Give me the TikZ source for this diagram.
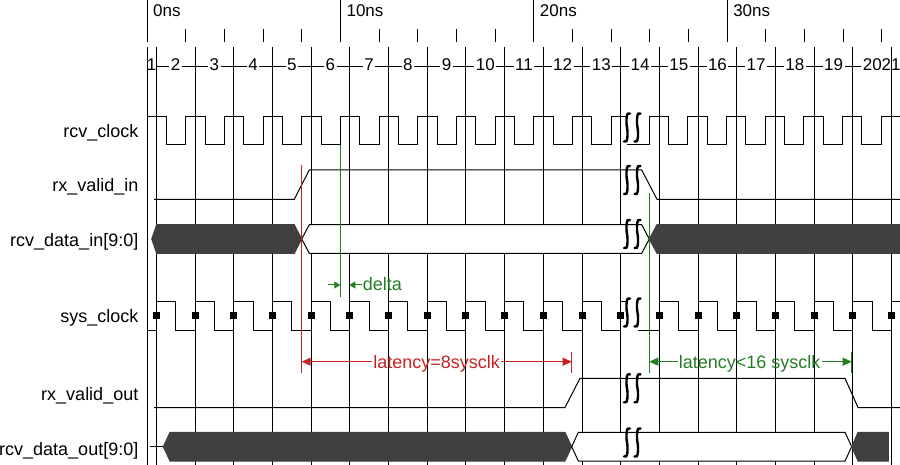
\documentclass[tikz,border=0pt]{standalone}
\usepackage{fontspec}
\setmainfont{Liberation Sans}
\usepackage{tikz}
\usetikzlibrary{arrows.meta}

\definecolor{latred}{RGB}{200,35,35}
\definecolor{latgreen}{RGB}{35,125,35}
\definecolor{busgray}{RGB}{64,64,64}

\tikzset{
  signame/.style={anchor=base east, inner sep=0pt, font=\fontsize{18}{20}\selectfont},
  cycnum/.style={anchor=base, inner sep=1.5pt, fill=white, font=\fontsize{17}{20}\selectfont},
  nslabel/.style={anchor=base west, inner sep=0pt, font=\fontsize{17}{20}\selectfont},
  annot/.style={anchor=base, inner sep=1pt, font=\fontsize{18}{20}\selectfont},
  wave/.style={black, line width=1pt},
  gridline/.style={black, line width=0.9pt},
  darkbus/.style={fill=busgray, draw=busgray, line width=1pt},
  whitebus/.style={fill=white, draw=black, line width=1pt},
  brkmark/.style={black, line width=2.4pt, line cap=round},
  redmark/.style={latred, line width=1pt},
  greenmark/.style={latgreen, line width=1pt},
  bigtip/.style={-{Triangle[length=9pt,width=8pt]}},
  smalltip/.style={-{Triangle[length=6pt,width=7pt]}}
}

\begin{document}
\begin{tikzpicture}[x=1pt,y=-1pt]
        \useasboundingbox (0,0) rectangle (900,465);
        \fill[white] (0,0) rectangle (900,465);
        \clip (0,0) rectangle (900,465);

        % Time scale
        \draw[gridline] (147,0) -- (147,42);
        \foreach \k in {1,...,19}
            \draw[gridline] (147+38.67*\k,29) -- (147+38.67*\k,42);
        \foreach \k in {5,10,15}
            \draw[gridline] (147+38.67*\k,0) -- (147+38.67*\k,42);
        \foreach \k/\lab in {0/0ns,5/10ns,10/20ns,15/30ns}
            \node[nslabel] (ns\k) at (153+38.67*\k,16.7) {\lab};

        % Cycle numbers
        \draw[gridline] (156.3,66) -- (882,66);
        \node[cycnum, fill=none] (cyc1) at (151.5,71) {1};
        \foreach \k [evaluate=\k as \n using int(\k+2)] in {0,...,18}
            \node[cycnum] (cyc\n) at (175.65+38.7*\k,71) {\n};
        \node[cycnum, fill=none, anchor=base west, inner sep=0pt] (cyc21) at (881.5,71) {21};

        % Grid lines on the sys_clock edges
        \draw[gridline] (147,47) -- (147,465);
        \foreach \k in {0,...,19}
            \draw[gridline] (156.3+38.7*\k,47) -- (156.3+38.7*\k,465);

        % Signal names
        \node[signame] (lrcvclk) at (138.5,137.7) {rcv\_clock};
        \node[signame] (lrxin) at (138.5,192) {rx\_valid\_in};
        \node[signame] (ldatain) at (138.5,246.7) {rcv\_data\_in[9:0]};
        \node[signame] (lsysclk) at (138.5,322.3) {sys\_clock};
        \node[signame] (lrxout) at (138.5,400) {rx\_valid\_out};
        \node[signame] (ldataout) at (138.5,455.7) {rcv\_data\_out[9:0]};

        % rcv_clock
        \draw[wave] (147,145) \foreach \k in {0,...,11} {-- ++(0,-28.5) -- ++(19.33,0) -- ++(0,28.5) -- ++(19.34,0)}
            -- ++(0,-28.5) -- (627,116.5);
        \draw[wave] (627,145) -- (649.3,145) \foreach \k in {0,...,6} {-- ++(0,-28.5) -- ++(19.33,0) -- ++(0,28.5) -- ++(19.34,0)};

        % rx_valid_in
        \draw[wave] (154,199.3) -- (294.3,199.3) -- (309.3,170) -- (641.7,170) -- (657,199.3) -- (900,199.3);

        % rcv_data_in
        \draw[darkbus] (151.7,239) -- (156.7,224.7) -- (294.3,224.7) -- (301.7,239) -- (294.3,253.3) -- (156.7,253.3) -- cycle;
        \draw[whitebus] (301.7,239) -- (309.3,224.7) -- (641.7,224.7) -- (649.3,239) -- (641.7,253.3) -- (309.3,253.3) -- cycle;
        \draw[darkbus] (649.3,239) -- (657,224.7) -- (905,224.7) -- (905,253.3) -- (657,253.3) -- cycle;

        % sys_clock
        \draw[wave] (147,330) -- (156.3,330) \foreach \k in {0,...,11} {-- ++(0,-28.5) -- ++(19.35,0) -- ++(0,28.5) -- ++(19.35,0)}
            -- ++(0,-28.5) -- (627,301.5);
        \draw[wave] (637.5,330) -- (659.4,330) \foreach \k in {13,...,19} {-- ++(0,-28.5) -- ++(19.35,0) -- ++(0,28.5) -- ++(19.35,0)};
        \foreach \k in {0,...,19}
            \fill (156.3+38.7*\k,315.7) ++(-3.5,-3.5) rectangle ++(7,7);

        % rx_valid_out
        \draw[wave] (154,407.5) -- (565,407.5) -- (580,378.3) -- (845,378.3) -- (858,407.5) -- (900,407.5);

        % rcv_data_out
        \draw[wave] (149.7,446.7) -- (163.3,446.7);
        \draw[darkbus] (163.3,446.7) -- (170,432.3) -- (565,432.3) -- (571.7,446.7) -- (565,461) -- (170,461) -- cycle;
        \draw[whitebus] (571.7,446.7) -- (578.3,432.3) -- (845,432.3) -- (851.7,446.7) -- (845,461) -- (578.3,461) -- cycle;
        \draw[darkbus] (851.7,446.7) -- (858,432.3) -- (888.3,432.3) -- (888.3,461) -- (858,461) -- cycle;

        % delta
        \draw[greenmark] (340.3,145) -- (340.3,296.7);
        \coordinate (dtail) at (328.3,285);
        \coordinate (dtip1) at (340.3,285);
        \coordinate (dtip2) at (349.3,285);
        \node[annot, anchor=base west, text=latgreen] (delta) at (361.7,290.7) {delta};
        \draw[greenmark, smalltip] (dtail) -- (dtip1);
        \draw[greenmark, smalltip] (delta.west |- dtip2) -- (dtip2);

        % latency = 8 sysclk
        \draw[redmark] (301.7,165) -- (301.7,373.3);
        \draw[redmark] (571.7,351.7) -- (571.7,373.3);
        \coordinate (lat8l) at (301.7,361.7);
        \coordinate (lat8r) at (571.7,361.7);
        \node[annot, text=latred] (lat8) at (436.7,368.3) {latency=8sysclk};
        \draw[redmark, bigtip] (lat8.west |- lat8l) -- (lat8l);
        \draw[redmark, bigtip] (lat8.east |- lat8r) -- (lat8r);

        % latency < 16 sysclk
        \draw[greenmark] (649.3,193.3) -- (649.3,373.3);
        \draw[greenmark] (851.7,351.7) -- (851.7,373.3);
        \coordinate (lat16l) at (649.3,361.7);
        \coordinate (lat16r) at (851.7,361.7);
        \node[annot, text=latgreen] (lat16) at (749.7,368.3) {latency<16 sysclk};
        \draw[greenmark, bigtip] (lat16.west |- lat16l) -- (lat16l);
        \draw[greenmark, bigtip] (lat16.east |- lat16r) -- (lat16r);

        % Break marks
        \foreach \y in {127.5,180,234,312.5,388.3,442.5}
            \foreach \x in {627,637.5}
                \draw[brkmark] (\x+3,\y-14) .. controls (\x-1,\y-17) and (\x-1,\y-5) .. (\x,\y)
                    .. controls (\x+1,\y+5) and (\x+1,\y+17) .. (\x-3,\y+14);
\end{tikzpicture}
\end{document}
